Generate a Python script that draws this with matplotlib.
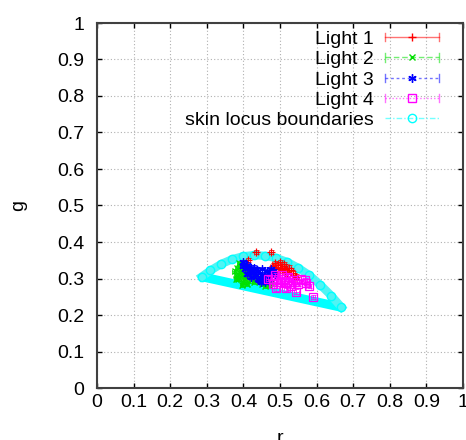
import matplotlib
matplotlib.use("Agg")
import matplotlib.pyplot as plt
from matplotlib.legend_handler import HandlerBase
from matplotlib.lines import Line2D

plt.rcParams['font.family'] = ['Liberation Sans', 'DejaVu Sans']

# ---------------- data ----------------
r1 = [0.435, 0.476, 0.413, 0.48, 0.485, 0.49, 0.495, 0.50, 0.505, 0.51, 0.515, 0.52,
      0.525, 0.53, 0.49, 0.50, 0.51, 0.52, 0.544, 0.472, 0.535, 0.505]
g1 = [0.373, 0.372, 0.351, 0.335, 0.342, 0.325, 0.338, 0.33, 0.32, 0.335, 0.325, 0.318,
      0.33, 0.322, 0.315, 0.345, 0.34, 0.312, 0.305, 0.31, 0.315, 0.328]

r2 = [0.376, 0.38, 0.383, 0.386, 0.39, 0.39, 0.394, 0.397, 0.40, 0.40, 0.404, 0.408,
      0.41, 0.412, 0.415, 0.418, 0.42, 0.38, 0.388, 0.396, 0.405, 0.425, 0.43, 0.44,
      0.45, 0.46, 0.465, 0.47, 0.475, 0.435, 0.455, 0.395]
g2 = [0.32, 0.31, 0.328, 0.30, 0.315, 0.335, 0.305, 0.325, 0.29, 0.312, 0.30, 0.32,
      0.285, 0.33, 0.305, 0.295, 0.315, 0.298, 0.342, 0.283, 0.308, 0.30, 0.29, 0.295,
      0.285, 0.28, 0.29, 0.283, 0.288, 0.305, 0.29, 0.318]

r3 = [0.398, 0.40, 0.405, 0.41, 0.415, 0.42, 0.425, 0.43, 0.435, 0.44, 0.442, 0.445,
      0.448, 0.45, 0.452, 0.455, 0.458, 0.46, 0.465, 0.47, 0.475, 0.48, 0.485, 0.41,
      0.42, 0.43, 0.44, 0.45, 0.46, 0.47]
g3 = [0.335, 0.345, 0.325, 0.338, 0.32, 0.33, 0.315, 0.325, 0.31, 0.30, 0.295, 0.305,
      0.29, 0.30, 0.31, 0.295, 0.305, 0.30, 0.32, 0.315, 0.325, 0.32, 0.31, 0.312,
      0.305, 0.33, 0.32, 0.325, 0.29, 0.30]

r4 = [0.467, 0.48, 0.49, 0.495, 0.50, 0.505, 0.513, 0.517, 0.522, 0.53, 0.535, 0.54,
      0.545, 0.55, 0.558, 0.567, 0.572, 0.578, 0.59, 0.485, 0.525, 0.51]
g4 = [0.30, 0.285, 0.273, 0.30, 0.29, 0.31, 0.287, 0.273, 0.305, 0.28, 0.295, 0.291,
      0.264, 0.285, 0.30, 0.296, 0.287, 0.28, 0.25, 0.31, 0.29, 0.298]

skin_upper_r = [0.286, 0.31, 0.34, 0.37, 0.40, 0.43, 0.46, 0.49, 0.52, 0.55, 0.58, 0.61, 0.64, 0.668]
skin_upper_g = [0.305, 0.322, 0.340, 0.353, 0.361, 0.364, 0.362, 0.356, 0.345, 0.329, 0.309, 0.283, 0.253, 0.221]
skin_lower_r = [0.286, 0.668]
skin_lower_g = [0.305, 0.221]

ticks = [0, 0.1, 0.2, 0.3, 0.4, 0.5, 0.6, 0.7, 0.8, 0.9, 1]
tick_labels = ['0', '0.1', '0.2', '0.3', '0.4', '0.5', '0.6', '0.7', '0.8', '0.9', '1']

series = [
    ("Light 1", r1, g1, '#ff0000', '-', '+', 6),
    ("Light 2", r2, g2, '#00e000', (0, (4, 2)), 'x', 5),
    ("Light 3", r3, g3, '#0000ff', (0, (2, 2)), (6, 2, 0), 6),
    ("Light 4", r4, g4, '#ff00ff', (0, (1, 1.5)), 's', 5.5),
]
skin_label = "skin locus boundaries"
skin_color = '#00ffff'

# ---------------- figure ----------------
fig = plt.figure(figsize=(4.66, 4.4), dpi=100)
ax = fig.add_axes([97 / 466, 52 / 440, 366 / 466, 365 / 440])

# skin locus
ax.plot(skin_lower_r, skin_lower_g, color=skin_color, lw=6.5, solid_capstyle='butt', zorder=2)
ax.plot(skin_upper_r, skin_upper_g, color='#50f4f4', lw=6, zorder=2)
ax.plot(skin_upper_r, skin_upper_g, ls='none', marker='o', ms=6, mfc='none',
        mec=skin_color, mew=1, zorder=2)

err = 0.006
for lab, rr, gg, col, ls, mk, ms in series:
    ax.errorbar(rr, gg, xerr=err, yerr=err, fmt='none', ecolor=col, elinewidth=0.7,
                capsize=1.8, capthick=0.7, alpha=0.8, zorder=3)
    ax.plot(rr, gg, ls='none', marker=mk, ms=ms, color=col, mfc='none', mew=0.9, zorder=3)

ax.set_xlim(0, 1)
ax.set_ylim(0, 1)
ax.set_xticks(ticks)
ax.set_xticklabels(tick_labels)
ax.set_yticks(ticks)
ax.set_yticklabels(tick_labels)
ax.tick_params(direction='in', length=3.6, width=1, top=True, right=True,
               labelsize=14, colors='#000000')
ax.tick_params(axis='x', pad=4)
ax.tick_params(axis='y', pad=9)
ax.grid(True, ls=(0, (1, 2)), color='#b0b0b0', lw=0.8)
for s in ax.spines.values():
    s.set_color('#404040')
    s.set_linewidth(1.5)
ax.set_axisbelow(True)

ax.set_xlabel('r', fontsize=14, labelpad=14)
ax.set_ylabel('g', fontsize=14, labelpad=22)


# ---------------- legend ----------------
class Proxy:
    def __init__(self, color, ls, marker, ms, caps=True):
        self.color, self.ls, self.marker, self.ms, self.caps = color, ls, marker, ms, caps


class ErrHandler(HandlerBase):
    def create_artists(self, legend, h, xdescent, ydescent, width, height, fontsize, trans):
        y = height / 2 - ydescent
        x0 = -xdescent
        x1 = width - xdescent
        arts = [Line2D([x0, x1], [y, y], color=h.color, ls=h.ls, lw=1, alpha=0.55, transform=trans)]
        if h.caps:
            c = height * 0.3
            arts.append(Line2D([x0, x0], [y - c, y + c], color=h.color, lw=1, alpha=0.55, transform=trans))
            arts.append(Line2D([x1, x1], [y - c, y + c], color=h.color, lw=1, alpha=0.55, transform=trans))
        arts.append(Line2D([(x0 + x1) / 2], [y], ls='none', marker=h.marker, ms=h.ms,
                           color=h.color, mfc='none', mew=1, transform=trans))
        return arts


handles = [Proxy(col, ls, mk, ms) for lab, rr, gg, col, ls, mk, ms in series]
labels = [s[0] for s in series]
handles.append(Proxy(skin_color, (0, (4, 1.5, 1, 1.5)), 'o', 6, caps=False))
labels.append(skin_label)

ax.legend(handles, labels, handler_map={Proxy: ErrHandler()}, loc='upper right',
          bbox_to_anchor=(0.934, 0.98), frameon=False, markerfirst=False,
          fontsize=14, handlelength=2.75, handletextpad=0.6, labelspacing=0.14,
          borderpad=0, borderaxespad=0)

fig.savefig('out.png', dpi=100)
